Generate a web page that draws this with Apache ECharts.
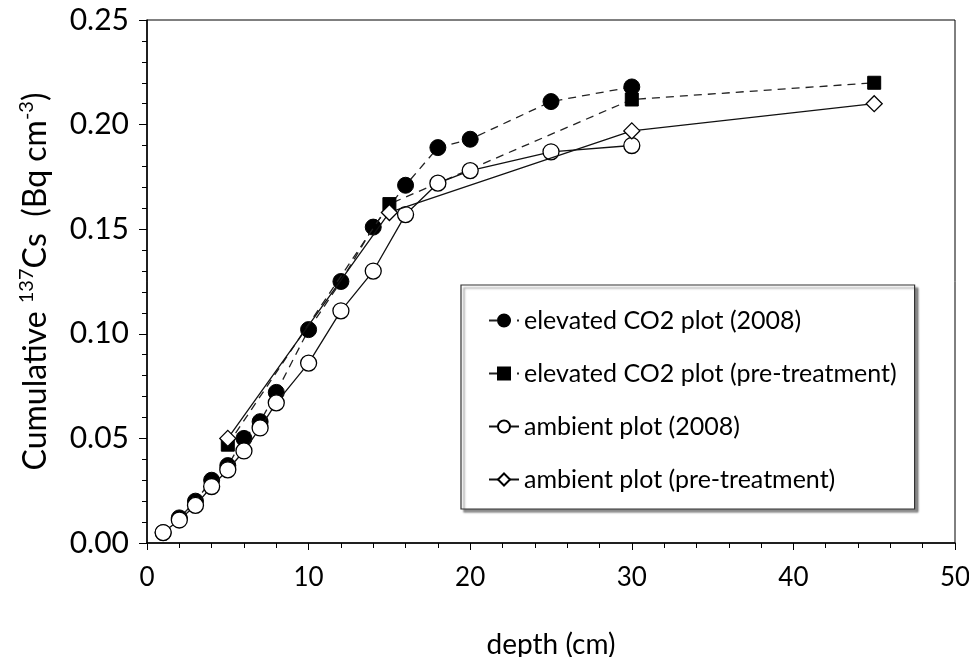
<!DOCTYPE html>
<html>
<head>
<meta charset="utf-8">
<script src="https://cdn.jsdelivr.net/npm/echarts@6/dist/echarts.min.js"></script>
<style>html,body{margin:0;padding:0;background:#fff}#c{width:969px;height:657px}</style>
</head>
<body>
<div id="c"></div>
<script>
// depth (cm) and cumulative 137Cs (Bq cm-3)
const elevated2008Depth = [1, 2, 3, 4, 5, 6, 7, 8, 10, 12, 14, 16, 18, 20, 25, 30];
const elevated2008Value = [0.005, 0.012, 0.020, 0.030, 0.037, 0.050, 0.058, 0.072, 0.102, 0.125, 0.151, 0.171, 0.189, 0.193, 0.211, 0.218];
const elevatedPreDepth = [5, 15, 30, 45];
const elevatedPreValue = [0.047, 0.162, 0.212, 0.220];
const ambient2008Depth = [1, 2, 3, 4, 5, 6, 7, 8, 10, 12, 14, 16, 18, 20, 25, 30];
const ambient2008Value = [0.005, 0.011, 0.018, 0.027, 0.035, 0.044, 0.055, 0.067, 0.086, 0.111, 0.130, 0.157, 0.172, 0.178, 0.187, 0.190];
const ambientPreDepth = [5, 15, 30, 45];
const ambientPreValue = [0.050, 0.158, 0.197, 0.210];
const seriesNames = ['elevated CO2 plot (2008)', 'elevated CO2 plot (pre-treatment)', 'ambient plot (2008)', 'ambient plot (pre-treatment)'];

const zip = (xs, ys) => xs.map((x, i) => [x, ys[i]]);
const FONT = 'Lato';

const chart = echarts.init(document.getElementById('c'), null, {renderer: 'canvas'});
chart.setOption({
  animation: false,
  textStyle: {fontFamily: FONT, color: '#000'},
  grid: {left: 147, right: 14, top: 20, bottom: 114, show: true, borderColor: '#000', borderWidth: 1, containLabel: false, outerBoundsMode: 'none'},
  xAxis: {
    type: 'value', min: 0, max: 50, interval: 10,
    name: 'depth (cm)', nameLocation: 'middle', nameGap: 88,
    nameTextStyle: {fontSize: 28, color: '#000', fontFamily: FONT},
    axisLine: {show: true, lineStyle: {color: '#000', width: 1.5}},
    axisTick: {show: true, length: 7, lineStyle: {color: '#000', width: 1}},
    minorTick: {show: true, splitNumber: 5, length: 5, lineStyle: {color: '#000', width: 1}},
    splitLine: {show: false},
    axisLabel: {fontSize: 26, color: '#000', margin: 22, fontFamily: FONT}
  },
  yAxis: {
    type: 'value', min: 0, max: 0.25, interval: 0.05,
    name: '{n|Cumulative }{s|137}{n|Cs  (Bq cm}{s|-3}{n|)}', nameLocation: 'middle', nameGap: 92,
    nameRotate: 90,
    nameTextStyle: {
      fontSize: 32, color: '#000', fontFamily: FONT,
      rich: {
        n: {fontSize: 32, fontFamily: FONT, color: '#000', lineHeight: 38},
        s: {fontSize: 20, fontFamily: FONT, color: '#000', verticalAlign: 'top', lineHeight: 38}
      }
    },
    axisLine: {show: true, lineStyle: {color: '#000', width: 1.5}},
    axisTick: {show: true, length: 8, lineStyle: {color: '#000', width: 1}},
    minorTick: {show: true, splitNumber: 5, length: 5, lineStyle: {color: '#000', width: 1}},
    splitLine: {show: false},
    axisLabel: {fontSize: 30, color: '#000', margin: 18, fontFamily: FONT, formatter: v => v.toFixed(2)}
  },
  legend: {
    orient: 'vertical', left: 461, top: 285,
    padding: [23, 18, 17, 27],
    itemGap: 28, itemWidth: 30, itemHeight: 15,
    backgroundColor: '#fff', borderColor: '#333', borderWidth: 1.2,
    shadowBlur: 2, shadowOffsetX: 3, shadowOffsetY: 3, shadowColor: 'rgba(0,0,0,0.45)',
    textStyle: {fontSize: 25, color: '#000', fontFamily: FONT},
    data: seriesNames
  },
  series: [
    {
      name: seriesNames[0], type: 'line', data: zip(elevated2008Depth, elevated2008Value),
      symbol: 'circle', symbolSize: 16, z: 2,
      lineStyle: {color: '#222', width: 1.3, type: [8, 6]},
      itemStyle: {color: '#000', borderColor: '#000', borderWidth: 1}
    },
    {
      name: seriesNames[1], type: 'line', data: zip(elevatedPreDepth, elevatedPreValue),
      symbol: 'rect', symbolSize: 13, z: 3,
      lineStyle: {color: '#222', width: 1.3, type: [8, 6]},
      itemStyle: {color: '#000', borderColor: '#000', borderWidth: 1}
    },
    {
      name: seriesNames[2], type: 'line', data: zip(ambient2008Depth, ambient2008Value),
      symbol: 'circle', symbolSize: 16, z: 4,
      lineStyle: {color: '#111', width: 1.3, type: 'solid'},
      itemStyle: {color: '#fff', borderColor: '#000', borderWidth: 1.3}
    },
    {
      name: seriesNames[3], type: 'line', data: zip(ambientPreDepth, ambientPreValue),
      symbol: 'diamond', symbolSize: 16, z: 5,
      lineStyle: {color: '#111', width: 1.3, type: 'solid'},
      itemStyle: {color: '#fff', borderColor: '#000', borderWidth: 1.3}
    }
  ]
});
</script>
</body>
</html>
